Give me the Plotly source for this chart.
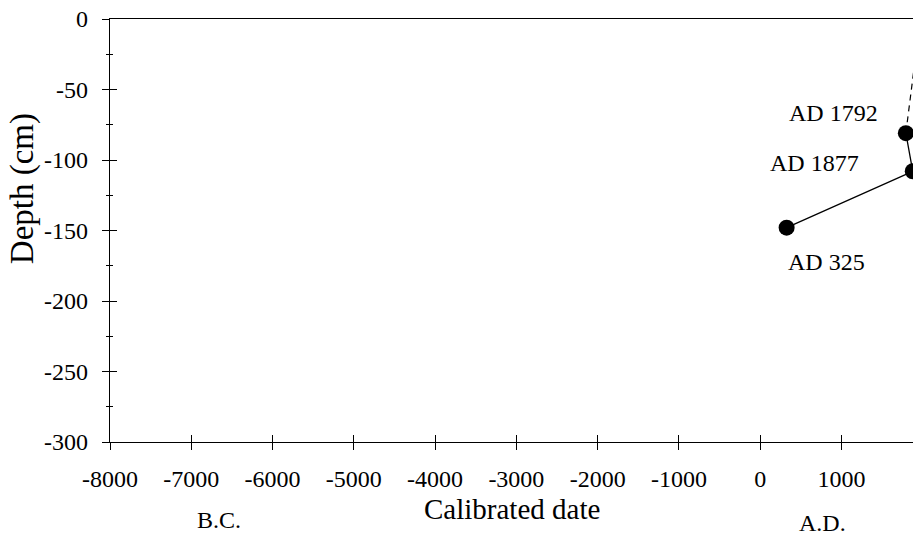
import plotly.graph_objects as go

# ---- data ----
dates = [325, 1877, 1792]          # calibrated dates (AD)
depths = [-148, -108, -81]         # depth (cm)
labels = ["AD 325", "AD 1877", "AD 1792"]
dash_dates = [1792, 1970]          # dashed extrapolation to surface
dash_depths = [-81, 0]

x_ticks = [-8000, -7000, -6000, -5000, -4000, -3000, -2000, -1000, 0, 1000]
x_ticktext = ["-8000", "-7000", "-6000", "-5000", "-4000", "-3000", "-2000", "-1000", "0", "1000"]
y_ticks = [0, -50, -100, -150, -200, -250, -300]
y_ticktext = ["0", "-50", "-100", "-150", "-200", "-250", "-300"]

FONT = "Liberation Serif"
X_RANGE = [-8000, 1880]
Y_RANGE = [-300, 0]

fig = go.Figure()

fig.add_trace(go.Scatter(
    x=dash_dates, y=dash_depths, mode="lines",
    line=dict(color="black", width=1.2, dash="6px,5px"),
    showlegend=False, hoverinfo="skip"))

fig.add_trace(go.Scatter(
    x=dates, y=depths, mode="lines+markers",
    line=dict(color="black", width=1.3),
    marker=dict(color="black", size=16, symbol="circle"),
    showlegend=False))

# label offsets (pixels) relative to points
offsets = {"AD 325": (40, -34), "AD 1877": (-98, 8), "AD 1792": (-72, 20)}
for d, z, lab in zip(dates, depths, labels):
    dx, dy = offsets[lab]
    fig.add_annotation(x=d, y=z, text=lab, showarrow=False,
                       xshift=dx, yshift=dy, xanchor="center", yanchor="middle",
                       font=dict(family=FONT, size=24, color="black"))

# axis titles and era labels
fig.add_annotation(x=0.5, y=-0.158, xref="paper", yref="paper", text="Calibrated date",
                   xanchor="center", yanchor="middle",
                   showarrow=False, font=dict(family=FONT, size=29, color="black"))
fig.add_annotation(x=-0.1096, y=0.60, xref="paper", yref="paper", text="Depth (cm)",
                   textangle=-90, showarrow=False, xanchor="center", yanchor="middle",
                   font=dict(family=FONT, size=33, color="black"))
fig.add_annotation(x=-6660, y=-0.184, xref="x", yref="paper", text="B.C.",
                   xanchor="center", yanchor="middle",
                   showarrow=False, font=dict(family=FONT, size=24, color="black"))
fig.add_annotation(x=772, y=-0.191, xref="x", yref="paper", text="A.D.",
                   xanchor="center", yanchor="middle",
                   showarrow=False, font=dict(family=FONT, size=24, color="black"))

fig.update_layout(
    width=913, height=539,
    margin=dict(l=110, r=0, t=19, b=97, autoexpand=False),
    plot_bgcolor="white", paper_bgcolor="white",
    font=dict(family=FONT, color="black"),
    xaxis=dict(range=X_RANGE, tickvals=x_ticks, ticktext=x_ticktext,
               ticks="outside", ticklen=7, tickwidth=1.2, tickcolor="black",
               ticklabelstandoff=8, ticklabeloverflow="allow",
               showline=True, linecolor="black", linewidth=1.3, mirror=True,
               showgrid=False, zeroline=False, automargin=False,
               tickfont=dict(family=FONT, size=24, color="black")),
    yaxis=dict(range=Y_RANGE, tickvals=y_ticks, ticktext=y_ticktext,
               ticks="outside", ticklen=7, tickwidth=1.2, tickcolor="black",
               ticklabelstandoff=9, ticklabeloverflow="allow",
               minor=dict(ticks="outside", dtick=25, tick0=0, ticklen=3, tickcolor="black"),
               showline=True, linecolor="black", linewidth=1.3,
               showgrid=False, zeroline=False, automargin=False,
               tickfont=dict(family=FONT, size=24, color="black")),
    xaxis2=dict(range=X_RANGE, overlaying="x", anchor="y", side="bottom",
                tickvals=x_ticks, ticks="inside", ticklen=7, tickwidth=1.2, tickcolor="black",
                showticklabels=False, showline=False, showgrid=False, zeroline=False),
    yaxis2=dict(range=Y_RANGE, overlaying="y", anchor="x", side="left",
                tickvals=y_ticks, ticks="inside", ticklen=7, tickwidth=1.2, tickcolor="black",
                minor=dict(ticks="inside", dtick=25, tick0=0, ticklen=3, tickcolor="black"),
                showticklabels=False, showline=False, showgrid=False, zeroline=False),
)

# invisible trace to activate overlay axes
fig.add_trace(go.Scatter(x=[None], y=[None], xaxis="x2", yaxis="y2",
                         showlegend=False, hoverinfo="skip"))

fig.write_html("out.html", config={"displayModeBar": False},
               post_script="document.body.style.margin='0';document.body.style.overflow='hidden';")
